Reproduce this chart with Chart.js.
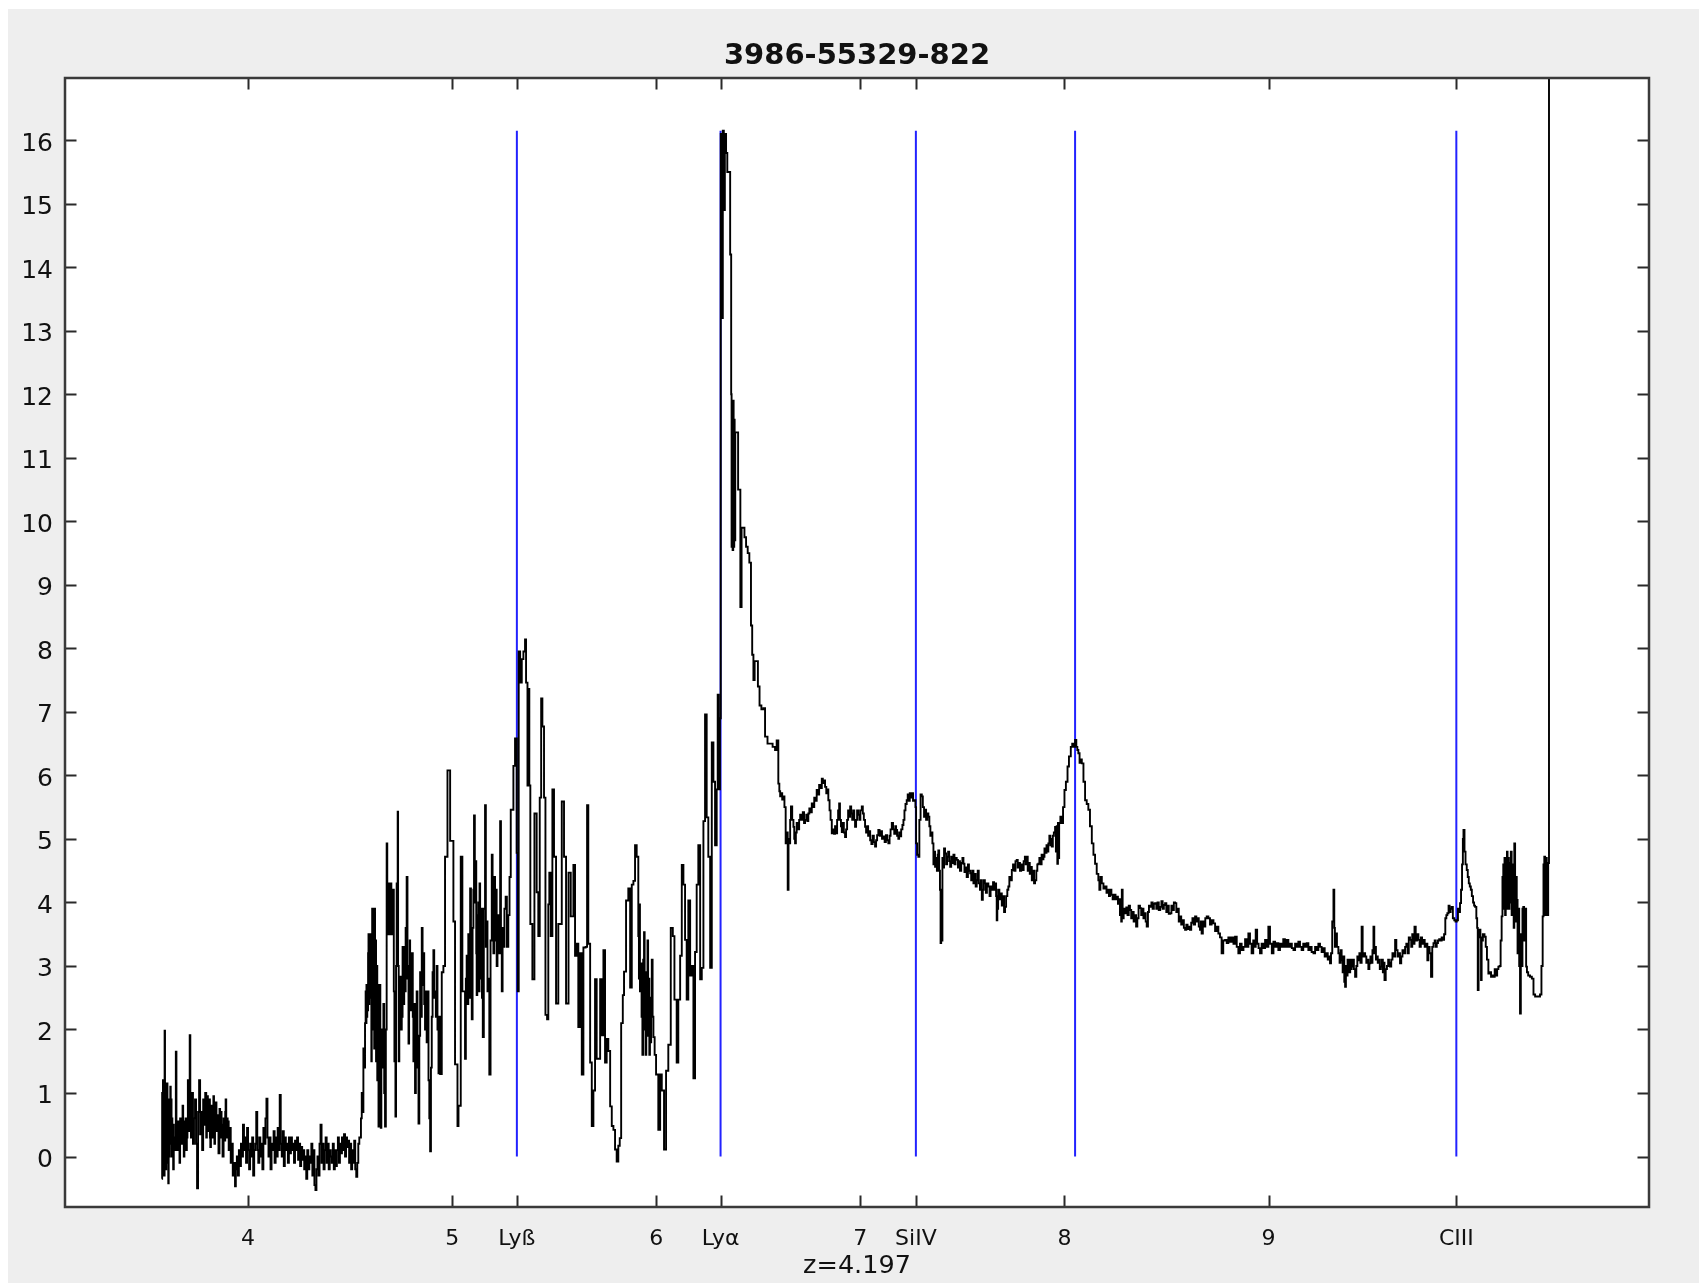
<!DOCTYPE html>
<html>
<head>
<meta charset="utf-8">
<script src="https://cdn.jsdelivr.net/npm/chart.js@4.4.1/dist/chart.umd.min.js"></script>
<style>
html,body{margin:0;padding:0;background:#ffffff;width:1707px;height:1286px;overflow:hidden}
#wrap{position:absolute;left:8px;top:9px;width:1691px;height:1274px}
</style>
</head>
<body>
<div id="wrap"><canvas id="c" width="1691" height="1274"></canvas></div>
<script>
// ---------------- data ----------------
const chartTitle = '3986-55329-822';
const redshiftLabel = 'z=4.197';

// observed wavelength (x1000 Å), flux
const spectrum = [
[3.577,-0.35],[3.579,1.0],[3.581,-0.3],[3.583,1.2],[3.585,0.1],[3.587,1.1],[3.589,-0.3],[3.591,1.98],[3.593,0.3],[3.595,1.15],[3.597,-0.2],[3.599,1.1],[3.601,0.2],[3.603,1.15],[3.605,-0.1],[3.607,0.9],[3.609,-0.42],[3.611,0.6],[3.613,0.0],[3.615,0.9],[3.617,0.2],[3.619,1.1],[3.621,0.4],[3.623,0.9],[3.625,0.0],[3.627,0.6],[3.629,0.2],[3.631,0.5],[3.633,-0.2],[3.636,0.3],[3.640,0.1],[3.643,0.5],[3.646,1.65],[3.649,0.4],[3.652,0.1],[3.655,0.55],[3.658,0.3],[3.661,0.55],[3.664,-0.1],[3.667,0.6],[3.670,0.2],[3.673,0.45],[3.676,0.3],[3.679,0.8],[3.682,0.2],[3.685,0.0],[3.688,0.55],[3.691,0.2],[3.694,0.6],[3.697,0.1],[3.700,0.3],[3.703,0.6],[3.705,1.2],[3.708,0.4],[3.711,0.7],[3.714,1.91],[3.717,0.6],[3.720,0.3],
[3.725,1.0],[3.730,0.2],[3.735,0.6],[3.740,0.9],[3.745,0.2],[3.750,-0.5],[3.755,0.7],[3.760,1.2],[3.765,0.35],[3.770,0.7],[3.775,0.1],[3.780,0.9],[3.785,0.5],[3.790,1.0],[3.795,0.3],[3.798,0.8],[3.800,0.95],[3.803,0.4],[3.805,0.5],[3.808,0.85],[3.810,0.9],[3.813,0.3],[3.815,0.15],[3.818,0.7],[3.820,0.8],[3.823,0.4],[3.825,0.3],[3.828,0.8],[3.830,0.95],[3.833,0.5],[3.835,0.2],[3.838,0.6],[3.840,0.85],[3.845,0.4],[3.850,0.65],[3.855,0.05],[3.860,0.75],[3.863,0.4],[3.865,0.3],[3.868,0.7],[3.870,0.5],[3.875,0.0],[3.880,0.6],[3.883,0.3],[3.885,0.25],[3.888,0.7],[3.890,0.9],[3.893,0.4],[3.895,0.3],[3.898,0.6],[3.900,0.55],[3.905,0.1],[3.910,0.45],
[3.915,-0.1],[3.920,0.2],[3.925,-0.3],[3.930,-0.1],[3.936,-0.47],[3.940,-0.2],[3.945,0.0],[3.950,-0.3],[3.955,0.1],[3.960,-0.15],[3.965,0.2],[3.970,0.0],[3.975,0.5],[3.980,0.1],[3.985,0.3],[3.990,-0.1],[3.995,0.45],[4.000,0.1],[4.005,-0.2],[4.010,0.2],[4.015,0.0],[4.020,0.3],[4.025,-0.3],[4.030,0.1],[4.035,0.2],[4.040,0.7],[4.045,0.1],[4.050,-0.1],[4.055,0.3],[4.060,0.0],[4.065,0.2],[4.070,-0.2],[4.075,0.45],[4.080,0.2],[4.085,0.6],[4.090,0.91],[4.095,0.3],[4.100,0.0],[4.105,0.3],[4.110,-0.2],[4.115,0.2],[4.120,0.1],[4.125,0.4],[4.130,-0.1],[4.135,0.3],[4.140,0.0],[4.145,0.45],[4.150,0.1],[4.155,0.97],[4.160,0.2],[4.165,0.0],[4.170,0.4],[4.175,-0.15],[4.180,0.3],[4.185,0.1],[4.190,0.2],[4.195,-0.1],[4.200,0.3],[4.205,0.05],[4.210,0.3],[4.215,0.1],[4.220,0.2],[4.225,-0.1],[4.230,0.25],[4.235,0.1],[4.240,0.3],[4.245,-0.05],[4.250,0.2],[4.255,-0.15],[4.260,0.15],[4.265,-0.05],[4.270,0.1],[4.275,-0.2],[4.280,0.0],[4.285,-0.35],[4.290,0.1],[4.295,-0.2],[4.300,0.0],[4.305,-0.1],[4.310,0.2],[4.315,-0.3],[4.320,0.1],[4.325,-0.45],[4.330,-0.53],[4.335,-0.2],[4.340,0.0],[4.345,-0.3],[4.350,0.2],[4.355,0.5],[4.360,-0.1],[4.365,0.2],[4.370,-0.2],[4.375,0.1],[4.380,0.3],[4.385,-0.1],[4.390,0.2],[4.395,-0.2],[4.400,0.1],[4.405,0.0],[4.410,-0.1],[4.415,0.2],[4.420,-0.2],[4.425,0.1],[4.430,-0.15],[4.435,0.1],[4.440,0.3],[4.445,-0.1],[4.450,0.2],[4.455,0.05],[4.460,0.3],[4.465,0.1],[4.470,0.35],[4.475,0.0],[4.480,0.3],[4.485,0.15],[4.490,0.25],[4.495,-0.1],[4.500,0.2],[4.505,-0.2],[4.510,0.1],[4.515,-0.1],[4.520,0.25],[4.525,-0.2],[4.530,-0.32],[4.535,-0.1],[4.540,0.2],[4.545,0.3],
[4.549,0.3],[4.553,0.6],[4.557,1.0],[4.561,0.7],[4.565,1.7],[4.569,1.4],[4.573,2.1],[4.576,2.6],[4.578,2.1],[4.580,2.7],[4.582,2.2],[4.584,2.6],[4.586,2.3],[4.588,3.2],[4.590,3.5],[4.592,2.4],[4.594,3.4],[4.596,2.5],[4.598,3.5],[4.600,2.6],[4.602,3.3],[4.604,1.5],[4.606,2.4],[4.608,3.9],[4.610,2.3],[4.612,3.9],[4.614,2.0],[4.616,3.6],[4.618,1.7],[4.620,3.9],[4.622,2.4],[4.624,3.4],[4.627,1.5],[4.630,3.0],[4.633,1.2],[4.636,2.7],[4.639,0.47],[4.642,1.5],[4.645,2.7],[4.648,1.2],[4.650,0.45],[4.653,1.5],[4.655,2.0],[4.659,1.4],[4.663,2.4],[4.667,1.0],[4.671,0.47],[4.675,2.0],[4.679,4.93],[4.682,3.5],[4.684,4.3],[4.686,3.6],[4.688,4.3],[4.690,3.5],[4.692,4.2],[4.694,3.7],[4.696,4.3],[4.698,3.5],[4.700,4.3],[4.702,3.6],[4.704,4.2],[4.706,3.5],[4.708,4.0],[4.710,3.5],[4.712,4.2],[4.714,2.6],[4.717,1.5],[4.720,2.2],[4.722,0.63],[4.725,3.0],[4.728,4.3],[4.730,3.5],[4.733,5.43],[4.735,3.0],[4.738,1.5],[4.741,2.4],[4.745,2.83],[4.749,2.0],[4.753,2.2],[4.757,3.3],[4.761,2.4],[4.765,3.3],[4.768,2.6],[4.772,3.6],[4.777,4.4],[4.781,2.8],[4.786,1.78],[4.789,3.0],[4.792,3.4],[4.794,2.5],[4.796,3.2],[4.798,2.3],[4.800,3.0],[4.802,2.5],[4.804,3.2],[4.807,2.2],[4.810,1.5],[4.814,2.4],[4.818,1.0],[4.822,1.8],[4.826,2.6],[4.830,1.4],[4.835,0.52],[4.839,1.9],[4.843,2.9],[4.847,2.2],[4.851,3.6],[4.855,2.7],[4.859,3.2],[4.863,2.4],[4.867,2.0],[4.871,2.6],[4.875,1.8],[4.880,2.6],[4.884,1.2],[4.888,0.6],[4.892,0.08],[4.896,1.4],[4.900,2.2],[4.904,2.9],[4.908,3.25],[4.912,2.5],[4.916,2.6],[4.920,2.2],[4.924,3.0],[4.928,2.0],[4.933,1.31],[4.937,2.2],
[4.941,1.3],[4.949,2.9],[4.957,3.0],[4.965,4.72],[4.977,6.08],[4.990,4.97],[5.001,4.97],[5.006,3.7],[5.014,1.45],[5.026,0.48],[5.031,0.8],[5.042,4.72],[5.050,2.6],
[5.063,1.54],[5.067,2.8],[5.071,3.16],[5.075,2.4],[5.079,3.5],[5.083,2.5],[5.088,4.22],[5.092,3.0],[5.096,2.16],[5.100,3.6],[5.104,4.2],[5.107,5.37],[5.111,4.0],[5.115,4.65],[5.118,3.2],[5.120,2.54],[5.123,3.8],[5.125,2.9],[5.128,4.0],[5.131,2.6],[5.134,4.3],[5.137,2.8],[5.140,3.6],[5.143,3.9],[5.146,2.5],[5.150,1.88],[5.155,3.9],[5.161,5.53],[5.165,3.3],[5.169,3.7],[5.173,2.6],[5.177,2.8],[5.182,1.29],[5.188,3.4],[5.194,4.75],[5.198,3.6],[5.202,3.2],[5.206,4.4],[5.210,3.4],[5.214,4.2],[5.218,3.0],[5.222,3.8],[5.228,3.2],[5.235,5.28],[5.239,3.4],[5.243,2.6],[5.247,3.6],[5.251,3.3],[5.256,3.9],[5.262,4.09],[5.268,3.3],[5.275,3.8],[5.281,4.4],
[5.287,5.46],[5.300,6.15],[5.308,6.58],[5.316,4.78],[5.321,2.6],[5.326,7.95],[5.333,7.46],[5.341,7.83],[5.349,7.95],[5.357,8.14],[5.362,7.46],[5.369,5.84],[5.373,7.36],[5.378,5.84],[5.383,3.66],[5.393,2.79],[5.403,5.4],[5.414,4.16],[5.422,3.47],[5.429,5.65],[5.436,7.21],[5.442,6.77],[5.450,5.65],[5.457,2.23],[5.465,2.16],[5.471,3.97],[5.476,4.47],[5.483,3.47],[5.491,5.78],[5.499,4.72],[5.509,2.41],[5.520,3.66],[5.537,5.59],[5.548,4.72],[5.558,2.41],[5.570,4.47],[5.581,3.78],[5.594,4.59],[5.602,3.16],[5.610,3.35],[5.618,2.04],[5.627,3.2],[5.635,1.29],[5.643,3.29],[5.654,3.3],[5.661,5.53],[5.667,3.35],[5.676,1.48],[5.684,0.48],[5.692,1.04],[5.700,2.79],[5.708,1.54],[5.725,2.79],[5.733,1.91],[5.741,3.25],[5.749,1.48],[5.757,1.85],[5.765,1.66],[5.774,0.79],[5.782,0.48],[5.790,0.42],[5.798,0.11],[5.806,-0.08],[5.814,0.17],[5.821,0.29],[5.828,2.1],[5.836,2.54],[5.842,2.91],[5.852,4.03],[5.863,4.22],[5.872,2.66],[5.880,4.28],[5.888,4.34],[5.896,4.9],[5.904,4.72],
[5.912,3.47],[5.915,2.8],[5.917,3.97],[5.920,2.6],[5.924,3.04],[5.928,2.2],[5.932,1.6],[5.936,3.1],[5.940,3.53],[5.943,2.0],[5.946,2.9],[5.948,1.6],[5.951,2.9],[5.954,1.9],[5.957,3.4],[5.960,2.2],[5.963,2.8],[5.966,1.6],[5.969,2.5],[5.972,1.8],[5.975,2.4],[5.978,3.1],[5.982,2.2],[5.986,1.88],[5.992,1.6],[5.999,1.29],
[6.010,0.42],[6.019,1.29],[6.027,1.04],[6.038,0.11],[6.048,1.35],[6.059,1.76],[6.071,3.6],[6.081,3.47],[6.089,2.47],[6.100,1.48],[6.108,2.47],[6.117,3.16],[6.125,4.59],[6.133,4.28],[6.141,3.41],[6.149,2.47],[6.157,4.03],[6.166,2.85],[6.174,3.0],[6.182,1.23],[6.190,3.22],[6.198,4.28],[6.206,4.9],[6.215,2.79],[6.223,2.97],[6.231,5.28],[6.239,6.96],[6.247,5.34],[6.255,4.72],[6.264,2.97],[6.272,6.52],[6.280,5.9],[6.288,4.9],[6.296,5.78],[6.301,7.27],[6.306,5.78],[6.312,6.9],
[6.316,16.1],[6.321,13.2],[6.326,16.15],[6.331,14.9],[6.336,16.1],[6.342,15.8],[6.348,15.5],[6.356,15.5],[6.362,14.2],[6.367,12.0],[6.369,9.6],[6.372,11.9],[6.374,9.55],[6.377,11.9],[6.379,9.6],[6.382,11.6],[6.384,9.7],[6.387,11.4],[6.395,11.4],[6.401,10.5],[6.407,10.5],[6.412,8.65],[6.418,9.9],[6.425,9.9],[6.432,9.75],[6.440,9.6],[6.448,9.5],[6.456,9.35],[6.464,8.36],[6.470,7.9],[6.476,7.5],[6.482,7.8],[6.490,7.8],[6.498,7.4],[6.506,7.1],[6.515,7.04],[6.525,7.06],[6.533,6.61],[6.545,6.5],[6.558,6.5],[6.570,6.45],[6.582,6.4],[6.590,6.55],
[6.598,5.87],[6.603,5.75],[6.607,5.67],[6.612,5.72],[6.617,5.62],[6.623,5.67],[6.628,5.5],[6.634,4.93],[6.639,5.1],[6.644,4.2],[6.648,5.0],[6.652,4.93],[6.656,5.3],[6.660,5.51],[6.666,5.3],[6.672,5.19],[6.676,5.0],[6.680,4.93],[6.684,5.1],[6.688,5.25],[6.694,5.15],[6.700,5.3],[6.705,5.38],[6.712,5.3],[6.718,5.42],[6.724,5.25],[6.729,5.3],[6.735,5.38],[6.740,5.28],[6.745,5.4],[6.750,5.48],[6.756,5.42],[6.762,5.56],[6.768,5.5],[6.774,5.65],[6.780,5.6],[6.786,5.77],[6.792,5.7],[6.798,5.85],[6.804,5.8],[6.811,5.95],[6.816,5.88],[6.822,5.92],[6.827,5.82],[6.833,5.72],[6.838,5.78],[6.843,5.61],[6.849,5.45],[6.854,5.3],[6.860,5.09],[6.866,5.15],[6.871,5.08],[6.876,5.2],[6.881,5.09],[6.886,5.3],[6.891,5.45],[6.896,5.56],[6.900,5.3],[6.905,5.2],[6.909,5.11],[6.914,5.25],[6.919,5.1],[6.925,5.03],[6.930,5.15],[6.935,5.3],[6.940,5.45],[6.945,5.35],[6.950,5.51],[6.955,5.4],[6.960,5.3],[6.965,5.45],[6.970,5.3],[6.974,5.19],[6.979,5.3],[6.984,5.45],[6.990,5.38],[6.995,5.3],[7.000,5.45],[7.007,5.51],[7.012,5.4],[7.017,5.3],[7.023,5.19],[7.028,5.1],[7.033,5.2],[7.038,5.05],[7.043,5.12],[7.048,4.98],[7.054,4.92],[7.060,5.05],[7.066,4.95],[7.072,4.88],[7.077,4.98],[7.082,5.06],[7.088,5.14],[7.094,5.05],[7.100,5.12],[7.106,5.0],[7.113,5.04],[7.119,4.95],[7.125,5.06],[7.131,4.98],[7.137,4.93],[7.143,5.05],[7.148,5.15],[7.154,5.25],[7.160,5.15],[7.166,5.08],[7.171,5.2],[7.175,5.14],[7.180,5.05],[7.186,5.0],[7.190,5.1],[7.195,5.04],[7.200,5.15],[7.206,5.22],[7.211,5.3],[7.216,5.45],[7.221,5.55],[7.227,5.61],[7.232,5.7],[7.237,5.6],[7.242,5.72],[7.247,5.65],[7.252,5.72],[7.258,5.6],[7.265,5.61],[7.270,5.5],[7.273,4.93],[7.278,4.75],[7.284,4.72],[7.289,5.3],[7.295,5.7],[7.301,5.67],[7.306,5.5],[7.312,5.35],[7.317,5.46],[7.322,5.3],[7.328,5.4],[7.333,5.35],[7.338,5.2],[7.343,5.05],[7.348,5.1],[7.353,4.93],[7.358,4.6],[7.362,4.8],[7.366,4.56],[7.370,4.7],[7.375,4.5],[7.379,4.75],[7.382,4.82],[7.386,4.5],[7.390,4.2],[7.393,3.36],[7.396,4.0],[7.399,3.4],[7.402,4.7],[7.406,4.55],[7.410,4.85],[7.415,4.77],[7.420,4.6],[7.425,4.72],[7.430,4.8],[7.435,4.65],[7.440,4.56],[7.445,4.72],[7.450,4.62],[7.456,4.75],[7.461,4.6],[7.466,4.7],[7.472,4.67],[7.478,4.55],[7.483,4.65],[7.488,4.5],[7.494,4.62],[7.500,4.7],[7.505,4.61],[7.510,4.48],[7.516,4.55],[7.521,4.4],[7.527,4.6],[7.532,4.5],[7.538,4.46],[7.543,4.35],[7.548,4.5],[7.554,4.3],[7.559,4.45],[7.565,4.25],[7.570,4.35],[7.575,4.5],[7.580,4.3],[7.586,4.2],[7.590,4.35],[7.595,4.04],[7.600,4.2],[7.605,4.35],[7.610,4.3],[7.615,4.15],[7.620,4.3],[7.627,4.25],[7.633,4.1],[7.638,4.25],[7.644,4.2],[7.650,4.32],[7.655,4.2],[7.660,4.3],[7.665,4.1],[7.668,3.72],[7.671,3.9],[7.675,4.2],[7.681,4.05],[7.688,4.14],[7.693,3.95],[7.698,4.1],[7.704,3.85],[7.709,3.93],[7.714,4.1],[7.720,4.2],[7.725,4.25],[7.730,4.4],[7.736,4.35],[7.742,4.51],[7.748,4.6],[7.754,4.5],[7.760,4.65],[7.766,4.67],[7.771,4.55],[7.776,4.62],[7.782,4.5],[7.788,4.6],[7.794,4.51],[7.800,4.65],[7.806,4.72],[7.810,4.6],[7.815,4.72],[7.820,4.5],[7.826,4.62],[7.830,4.45],[7.835,4.56],[7.840,4.35],[7.846,4.5],[7.851,4.3],[7.856,4.35],[7.862,4.5],[7.867,4.6],[7.872,4.61],[7.877,4.7],[7.883,4.6],[7.888,4.75],[7.893,4.68],[7.897,4.72],[7.902,4.85],[7.907,4.78],[7.912,4.9],[7.916,4.8],[7.921,4.93],[7.926,5.05],[7.931,4.9],[7.935,5.0],[7.938,4.88],[7.943,5.05],[7.948,5.1],[7.954,5.19],[7.958,4.8],[7.962,5.2],[7.965,4.61],[7.968,5.25],[7.971,4.7],[7.974,5.25],[7.980,5.35],[7.987,5.25],[7.993,5.5],[8.000,5.77],[8.007,5.9],[8.015,6.14],[8.022,6.3],[8.031,6.45],[8.038,6.5],[8.045,6.45],[8.052,6.56],[8.058,6.45],[8.063,6.4],[8.068,6.35],[8.074,6.2],[8.080,6.25],[8.085,6.19],[8.093,5.9],[8.101,5.61],[8.109,5.55],[8.117,5.46],[8.125,5.2],[8.134,4.93],[8.142,4.75],[8.150,4.61],[8.158,4.45],[8.166,4.35],[8.171,4.2],[8.176,4.4],[8.183,4.3],[8.191,4.22],[8.199,4.25],[8.206,4.15],[8.212,4.2],[8.218,4.1],[8.223,4.2],[8.230,4.12],[8.236,4.05],[8.243,4.12],[8.250,4.05],[8.256,4.09],[8.262,3.98],[8.268,4.05],[8.272,3.8],[8.275,3.93],[8.278,3.7],[8.281,4.2],[8.285,3.75],[8.290,3.9],[8.297,3.83],[8.303,3.92],[8.309,3.8],[8.315,3.95],[8.321,3.88],[8.327,3.75],[8.333,3.85],[8.339,3.7],[8.345,3.8],[8.351,3.62],[8.357,3.75],[8.363,3.95],[8.370,3.91],[8.376,3.8],[8.382,3.9],[8.387,3.75],[8.392,3.83],[8.398,3.7],[8.403,3.62],[8.409,3.85],[8.414,3.95],[8.420,3.93],[8.426,4.0],[8.432,3.9],[8.438,3.98],[8.444,3.99],[8.450,3.9],[8.456,4.0],[8.462,3.88],[8.469,3.93],[8.475,4.02],[8.481,3.9],[8.487,3.96],[8.493,3.99],[8.499,3.85],[8.505,3.95],[8.511,3.82],[8.518,3.83],[8.524,3.95],[8.530,3.88],[8.536,4.0],[8.542,3.99],[8.548,3.85],[8.554,3.9],[8.560,3.7],[8.566,3.78],[8.572,3.65],[8.578,3.72],[8.585,3.6],[8.591,3.57],[8.597,3.65],[8.603,3.58],[8.609,3.62],[8.615,3.57],[8.621,3.68],[8.627,3.75],[8.633,3.65],[8.640,3.78],[8.646,3.7],[8.652,3.75],[8.658,3.62],[8.664,3.57],[8.668,3.7],[8.672,3.51],[8.678,3.7],[8.684,3.62],[8.690,3.75],[8.697,3.78],[8.705,3.75],[8.713,3.65],[8.721,3.72],[8.730,3.67],[8.738,3.55],[8.746,3.62],[8.754,3.51],[8.762,3.45],[8.770,3.2],[8.778,3.4],[8.787,3.41],[8.795,3.36],[8.803,3.45],[8.811,3.38],[8.820,3.45],[8.828,3.35],[8.836,3.46],[8.844,3.3],[8.852,3.2],[8.860,3.35],[8.868,3.25],[8.877,3.3],[8.885,3.42],[8.893,3.3],[8.901,3.51],[8.909,3.35],[8.917,3.2],[8.925,3.4],[8.931,3.3],[8.937,3.57],[8.944,3.35],[8.951,3.28],[8.958,3.2],[8.966,3.35],[8.975,3.28],[8.983,3.41],[8.991,3.3],[8.999,3.62],[9.007,3.35],[9.016,3.2],[9.024,3.38],[9.032,3.3],[9.040,3.36],[9.048,3.25],[9.056,3.35],[9.064,3.3],[9.072,3.42],[9.080,3.3],[9.089,3.41],[9.097,3.3],[9.105,3.35],[9.114,3.28],[9.122,3.25],[9.130,3.35],[9.138,3.3],[9.146,3.38],[9.154,3.3],[9.162,3.25],[9.170,3.35],[9.179,3.3],[9.187,3.36],[9.195,3.25],[9.203,3.3],[9.211,3.22],[9.220,3.2],[9.228,3.3],[9.236,3.25],[9.244,3.35],[9.252,3.3],[9.260,3.22],[9.268,3.28],[9.275,3.15],[9.282,3.2],[9.290,3.1],[9.296,3.15],[9.301,3.04],[9.306,3.2],[9.312,3.7],[9.318,4.2],[9.322,3.6],[9.325,3.3],[9.329,3.51],[9.335,3.3],[9.342,3.2],[9.348,3.05],[9.353,3.25],[9.358,3.09],[9.363,2.9],[9.367,3.15],[9.371,2.75],[9.375,2.67],[9.379,3.0],[9.383,2.85],[9.387,3.1],[9.391,3.09],[9.395,2.9],[9.400,3.1],[9.404,2.95],[9.407,2.99],[9.412,3.1],[9.418,2.95],[9.424,2.83],[9.430,3.0],[9.435,3.15],[9.440,3.09],[9.445,3.2],[9.450,3.05],[9.456,3.62],[9.461,3.15],[9.467,3.2],[9.473,3.15],[9.479,3.05],[9.485,3.1],[9.489,2.95],[9.494,3.04],[9.499,3.15],[9.504,3.05],[9.509,3.25],[9.514,3.62],[9.518,3.2],[9.522,3.3],[9.526,3.1],[9.530,3.15],[9.535,3.05],[9.540,3.1],[9.545,2.95],[9.550,2.99],[9.555,3.1],[9.560,2.9],[9.564,3.05],[9.568,2.78],[9.574,2.95],[9.580,3.0],[9.586,3.1],[9.590,3.05],[9.595,2.99],[9.601,3.1],[9.607,3.2],[9.613,3.15],[9.620,3.41],[9.626,3.25],[9.632,3.15],[9.638,3.2],[9.644,3.04],[9.650,3.15],[9.656,3.25],[9.663,3.2],[9.669,3.3],[9.675,3.35],[9.681,3.2],[9.687,3.45],[9.693,3.41],[9.699,3.3],[9.704,3.5],[9.709,3.35],[9.715,3.62],[9.721,3.4],[9.727,3.5],[9.734,3.41],[9.740,3.3],[9.746,3.45],[9.752,3.35],[9.758,3.41],[9.765,3.3],[9.771,3.35],[9.778,3.09],[9.783,3.3],[9.789,3.2],[9.796,2.83],[9.802,3.3],[9.808,3.36],[9.814,3.4],[9.819,3.3],[9.824,3.36],[9.830,3.4],[9.836,3.42],[9.842,3.4],[9.848,3.45],[9.853,3.41],[9.860,3.5],[9.866,3.75],[9.871,3.8],[9.876,3.83],[9.882,3.95],[9.887,3.85],[9.892,3.9],[9.897,3.93],[9.903,3.75],[9.910,3.72],[9.916,3.7],[9.922,3.72],[9.928,3.9],[9.933,3.85],[9.938,3.99],[9.943,4.2],[9.948,4.6],[9.952,5.0],[9.955,5.14],[9.960,4.8],[9.965,4.6],[9.971,4.51],[9.976,4.4],[9.981,4.3],[9.986,4.25],[9.991,4.2],[9.996,4.1],[10.002,4.0],[10.007,3.95],[10.012,3.93],[10.018,3.75],[10.022,3.6],[10.025,2.62],[10.029,3.5],[10.033,3.57],[10.038,3.45],[10.041,2.78],[10.044,3.4],[10.050,3.5],[10.058,3.46],[10.064,3.3],[10.070,3.1],[10.077,2.88],[10.083,2.9],[10.090,2.83],[10.096,2.85],[10.102,2.83],[10.108,2.95],[10.114,2.85],[10.120,2.95],[10.126,2.99],[10.132,3.0],[10.137,3.4],
[10.142,3.78],[10.146,4.4],[10.150,4.6],[10.153,3.9],[10.156,4.7],[10.159,3.8],[10.162,4.56],[10.165,3.9],[10.168,4.8],[10.171,3.93],[10.174,4.7],[10.177,3.9],[10.180,4.62],[10.183,4.0],[10.187,4.8],[10.191,3.8],[10.195,4.04],[10.199,4.6],[10.201,3.6],[10.204,4.93],[10.208,3.7],[10.212,4.4],[10.216,4.04],[10.220,3.2],[10.224,3.9],[10.228,3.0],[10.232,2.25],[10.236,3.5],[10.240,3.0],[10.244,3.9],[10.248,3.93],[10.252,3.4],[10.256,3.9],[10.262,2.99],[10.266,2.9],[10.272,2.85],[10.281,2.83],[10.290,2.8],[10.298,2.55],[10.306,2.52],[10.318,2.52],[10.330,2.55],[10.337,3.0],[10.343,3.78],[10.347,4.6],[10.351,4.72],[10.355,3.8],[10.359,4.7],[10.363,4.62],[10.367,3.8],[10.370,4.62],[10.374,16.98]
];

// emission line markers (observed wavelength, x1000 Å)
const lineNames = ['Lyß', 'Lyα', 'SiIV', 'CIV', 'CIII'];
const lineWaves = [5.317, 6.315, 7.272, 8.052, 9.920];
const lineTop = 16.15;

// axis ticks
const xTickValues = [4, 5, 5.317, 6, 6.315, 7, 7.272, 8, 9, 9.920];
const xTickLabels = ['4', '5', 'Lyß', '6', 'Lyα', '7', 'SiIV', '8', '9', 'CIII'];
const yTickValues = [0, 1, 2, 3, 4, 5, 6, 7, 8, 9, 10, 11, 12, 13, 14, 15, 16];
const xRange = [3.103, 10.864];
const yRange = [-0.795, 16.98];

// ---------------- drawing ----------------
const SANS = "'DejaVu Sans', Verdana, sans-serif";

const panelPlugin = {
  id: 'panel',
  beforeDraw(chart) {
    const { ctx, chartArea: a } = chart;
    ctx.save();
    ctx.fillStyle = '#eeeeee';
    ctx.fillRect(0, 0, chart.width, chart.height);
    ctx.fillStyle = '#ffffff';
    ctx.fillRect(a.left, a.top, a.right - a.left, a.bottom - a.top);
    ctx.restore();
  },
  afterDatasetsDraw(chart) {
    const { ctx, chartArea: a, scales } = chart;
    const x = scales.x, y = scales.y;
    const tl = 11.5;
    ctx.save();
    ctx.strokeStyle = '#2a2a2a';
    ctx.lineWidth = 2;
    ctx.beginPath();
    x.ticks.forEach(t => {
      const px = Math.round(x.getPixelForValue(t.value)) + 0.5;
      ctx.moveTo(px, a.bottom); ctx.lineTo(px, a.bottom - tl);
      ctx.moveTo(px, a.top); ctx.lineTo(px, a.top + tl);
    });
    y.ticks.forEach(t => {
      const py = Math.round(y.getPixelForValue(t.value)) + 0.5;
      ctx.moveTo(a.left, py); ctx.lineTo(a.left + tl, py);
      ctx.moveTo(a.right, py); ctx.lineTo(a.right - tl, py);
    });
    ctx.stroke();
    ctx.strokeStyle = '#3a3a3a';
    ctx.lineWidth = 2.5;
    ctx.strokeRect(a.left, a.top, a.right - a.left, a.bottom - a.top);
    ctx.restore();
  },
  afterDraw(chart) {
    const { ctx, chartArea: a } = chart;
    ctx.save();
    ctx.fillStyle = '#111111';
    ctx.font = "bold 29px " + SANS;
    ctx.textAlign = 'center';
    ctx.textBaseline = 'middle';
    ctx.fillText(chartTitle, (a.left + a.right) / 2, 47);
    ctx.restore();
  }
};

const datasets = [{
  label: 'flux',
  data: spectrum.map(p => ({ x: p[0], y: p[1] })),
  borderColor: '#000000',
  borderWidth: 1.9,
  stepped: 'before',
  pointRadius: 0,
  fill: false
}].concat(lineWaves.map((w, i) => ({
  label: lineNames[i],
  data: [{ x: w, y: 0 }, { x: w, y: lineTop }],
  borderColor: '#2222ff',
  borderWidth: 2,
  pointRadius: 0,
  fill: false
})));

new Chart(document.getElementById('c'), {
  type: 'line',
  data: { datasets },
  options: {
    responsive: false,
    animation: false,
    events: [],
    layout: { padding: { left: 0, right: 50, top: 69, bottom: 0 } },
    plugins: {
      legend: { display: false },
      tooltip: { enabled: false },
      title: { display: false }
    },
    scales: {
      x: {
        type: 'linear',
        bounds: 'data',
        min: xRange[0],
        max: xRange[1],
        grid: { display: false, drawTicks: false },
        border: { display: false },
        afterBuildTicks: s => { s.ticks = xTickValues.map(v => ({ value: v })); },
        afterFit: s => { s.height = 76; },
        ticks: {
          autoSkip: false, maxRotation: 0, minRotation: 0,
          padding: 19.5, color: '#111111',
          font: { family: SANS, size: 22, lineHeight: 1.2 },
          callback: (v, i) => xTickLabels[i]
        },
        title: {
          display: true, text: redshiftLabel, color: '#111111',
          font: { family: SANS, size: 25.5, lineHeight: 1 },
          padding: { top: 0, bottom: 3.5 }
        }
      },
      y: {
        type: 'linear',
        bounds: 'data',
        min: yRange[0],
        max: yRange[1],
        grid: { display: false, drawTicks: false },
        border: { display: false },
        afterBuildTicks: s => { s.ticks = yTickValues.map(v => ({ value: v })); },
        afterFit: s => { s.width = 57; },
        ticks: {
          padding: 12, color: '#111111', labelOffset: 4,
          font: { family: SANS, size: 25, lineHeight: 1.2 },
          callback: v => String(v)
        }
      }
    }
  },
  plugins: [panelPlugin]
});
</script>
</body>
</html>
